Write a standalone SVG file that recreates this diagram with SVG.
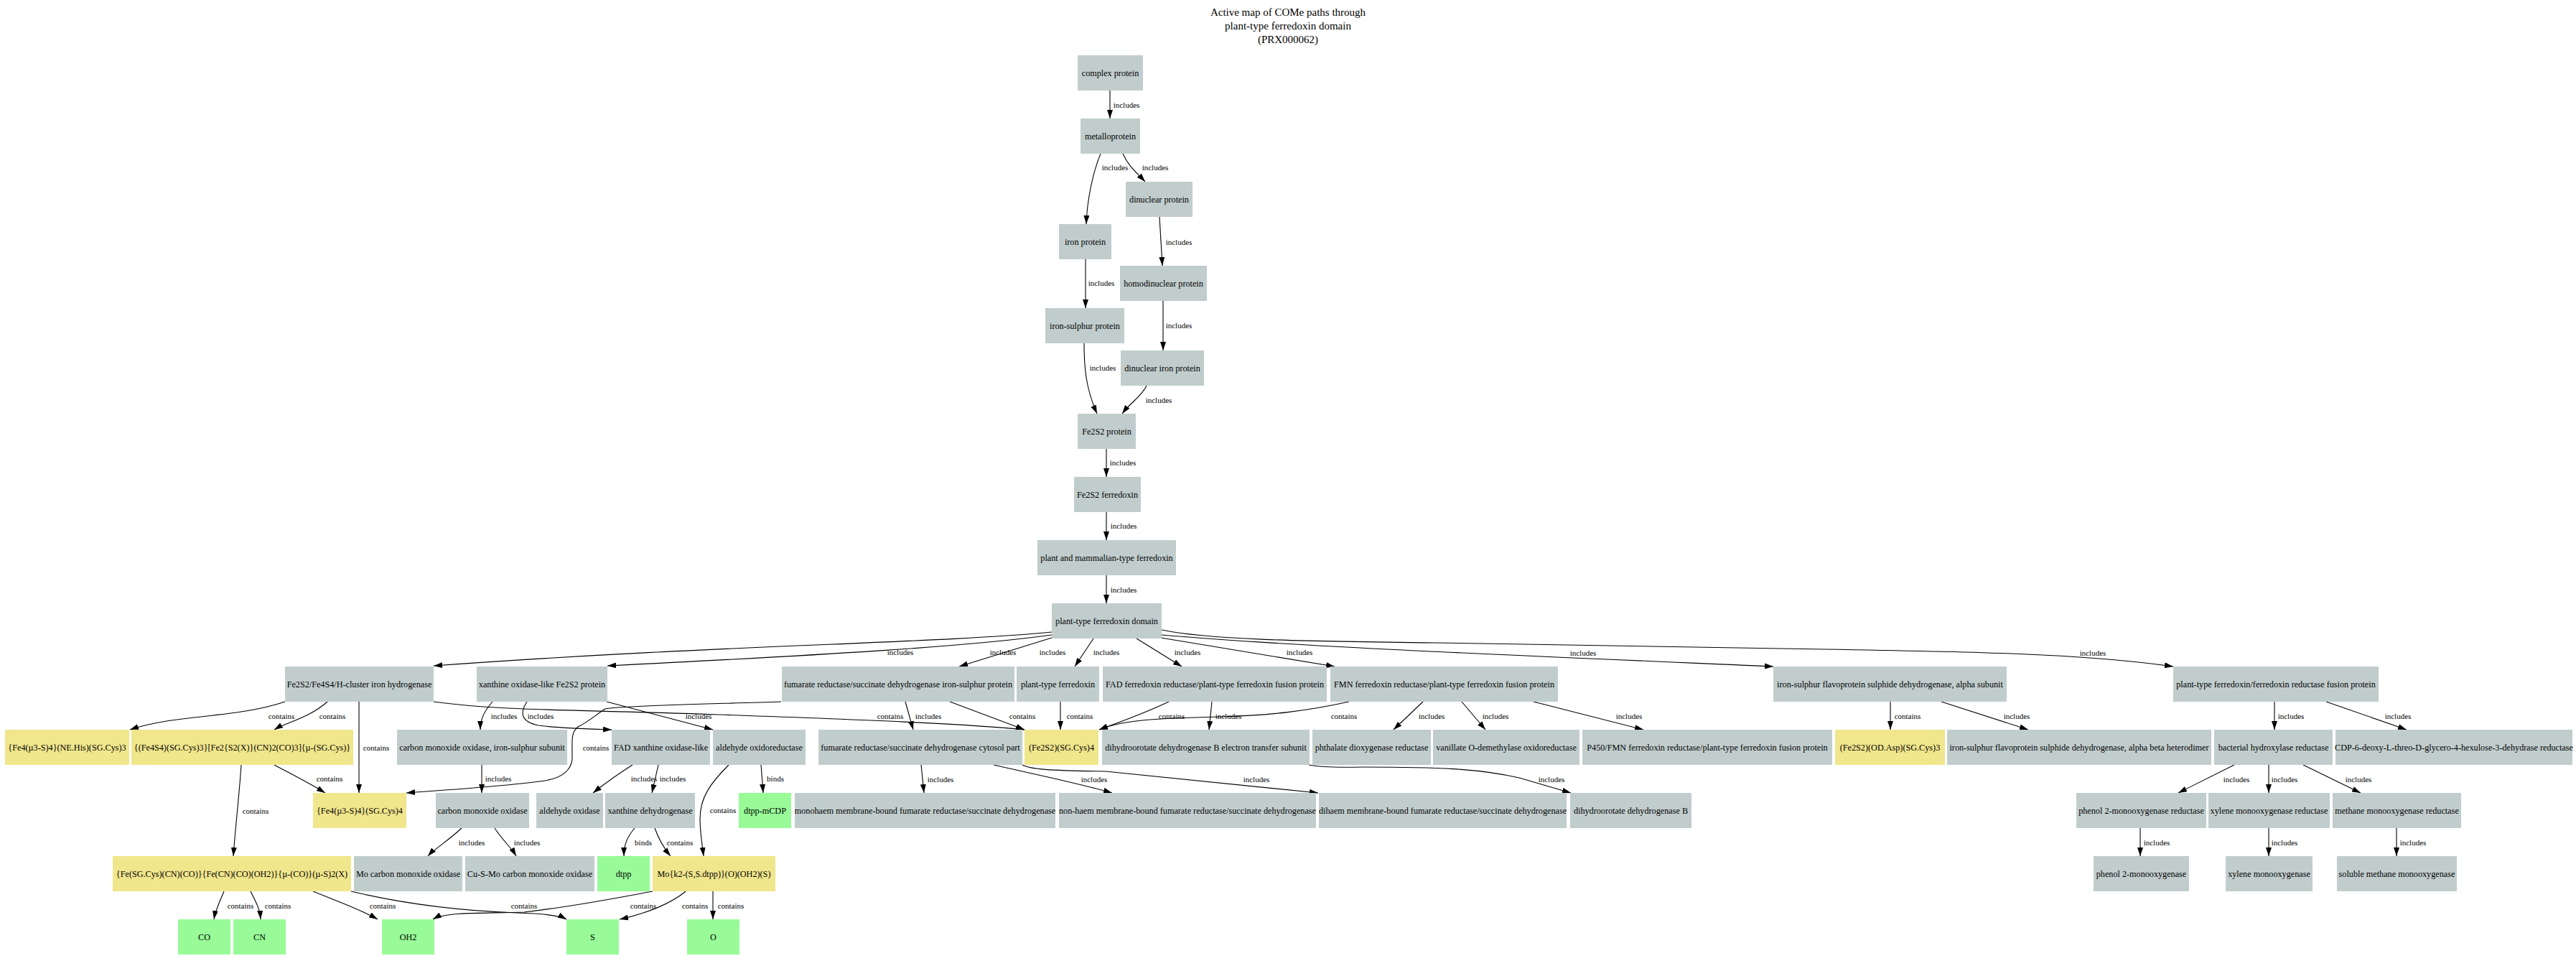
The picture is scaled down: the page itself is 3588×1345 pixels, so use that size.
<svg xmlns="http://www.w3.org/2000/svg" width="3588" height="1345" viewBox="0 0 3588 1345">
<defs>
<marker id="ah" markerUnits="userSpaceOnUse" markerWidth="12" markerHeight="8" refX="12" refY="4" orient="auto">
<path d="M0,0 L12,4 L0,8 z" fill="#000"/>
</marker>
<style>
.n{fill:#c1cdcd}.y{fill:#f0e68c}.g{fill:#98fb98}
text{font-family:"Liberation Serif","Times New Roman",serif;fill:#000}
.t{font-size:12.2px;text-anchor:middle}
.l{font-size:11px;text-anchor:middle}
.ti{font-size:15px;text-anchor:middle}
.e path{fill:none;stroke:#000;stroke-width:1.1;marker-end:url(#ah)}
</style>
</defs>
<rect width="3588" height="1345" fill="#fff"/>
<g id="title">
<text class="ti" x="1794" y="22">Active map of COMe paths through</text>
<text class="ti" x="1794" y="41">plant-type ferredoxin domain</text>
<text class="ti" x="1794" y="60">(PRX000062)</text>
</g>
<g id="edges" class="e">
<path d="M1546,126 L1546,165"/>
<path d="M1533,214 C1522,240 1514,280 1513,312"/>
<path d="M1564,214 C1572,232 1583,240 1595,253"/>
<path d="M1615,302 L1619,370"/>
<path d="M1512,361 L1512,429"/>
<path d="M1620,419 L1620,488"/>
<path d="M1510,478 C1510,510 1512,540 1528,576"/>
<path d="M1597,537 C1590,552 1575,560 1563,576"/>
<path d="M1541,625 L1541,664"/>
<path d="M1541,713 L1541,752"/>
<path d="M1541,801 L1541,840"/>
<path d="M1465,880 C1300,896 1000,898 604,927"/>
<path d="M1465,884 C1350,900 1150,912 846,927"/>
<path d="M1465,888 L1336,928"/>
<path d="M1523,889 L1497,928"/>
<path d="M1583,889 L1646,928"/>
<path d="M1617,888 L1859,928"/>
<path d="M1618,884 C1800,900 2100,912 2470,928"/>
<path d="M1618,877 C1680,890 1800,893 2000,895 L2480,903 C2750,907 2900,910 3027,928"/>
<path d="M397,977 C330,1000 240,995 181,1016"/>
<path d="M456,977 C430,1000 400,1005 382,1016"/>
<path d="M500,977 L500,1104"/>
<path d="M604,977 C700,990 774,987 1000,995 C1200,1002 1350,1008 1427,1016"/>
<path d="M1088,977 C1000,980 870,982 843,987 C830,995 820,1005 805,1012 C795,1020 797,1030 797,1057 C795,1075 780,1085 751,1088 C700,1095 620,1100 566,1104"/>
<path d="M1323,977 L1427,1016"/>
<path d="M1261,977 L1272,1016"/>
<path d="M686,977 C675,990 669,1000 669,1016"/>
<path d="M734,977 C724,992 725,1005 750,1010 C780,1014 820,1015 852,1016"/>
<path d="M845,977 L993,1016"/>
<path d="M671,1065 L671,1104"/>
<path d="M881,1065 C865,1075 850,1085 826,1104"/>
<path d="M917,1065 L908,1104"/>
<path d="M1060,1065 L1063,1104"/>
<path d="M1015,1065 C990,1090 975,1110 975,1140 C975,1160 978,1175 980,1192"/>
<path d="M382,1065 C410,1080 430,1090 453,1104"/>
<path d="M336,1065 C333,1110 328,1150 325,1192"/>
<path d="M643,1153 C625,1170 605,1182 596,1192"/>
<path d="M689,1153 C700,1170 712,1180 719,1192"/>
<path d="M884,1153 C874,1165 869,1175 869,1192"/>
<path d="M912,1153 C918,1170 924,1180 934,1192"/>
<path d="M312,1241 C306,1255 300,1268 298,1280"/>
<path d="M349,1241 C356,1255 362,1265 363,1280"/>
<path d="M436,1241 C470,1255 500,1265 526,1280"/>
<path d="M489,1241 C560,1258 640,1268 720,1271 C760,1272 780,1275 789,1280"/>
<path d="M909,1241 C860,1250 800,1262 730,1270 C660,1272 620,1270 603,1280"/>
<path d="M955,1241 C935,1258 900,1272 863,1280"/>
<path d="M993,1241 L993,1280"/>
<path d="M1283,1065 L1287,1104"/>
<path d="M1384,1065 C1450,1080 1500,1090 1549,1104"/>
<path d="M1424,1065 C1435,1071 1460,1073 1540,1074 L1836,1104"/>
<path d="M1823,1065 C1850,1070 1880,1068 1900,1068 C2000,1068 2060,1070 2116,1083 L2188,1104"/>
<path d="M1477,977 L1477,1016"/>
<path d="M1628,977 C1590,995 1560,1005 1531,1016"/>
<path d="M1688,977 L1684,1016"/>
<path d="M1879,977 C1820,990 1770,996 1700,998 C1600,1000 1560,1004 1531,1016"/>
<path d="M1982,977 L1941,1016"/>
<path d="M2036,977 L2069,1016"/>
<path d="M2136,977 L2289,1016"/>
<path d="M2633,977 L2633,1016"/>
<path d="M2704,977 L2825,1016"/>
<path d="M3168,977 L3168,1016"/>
<path d="M3240,977 L3352,1016"/>
<path d="M3112,1065 L3034,1104"/>
<path d="M3160,1065 L3160,1104"/>
<path d="M3208,1065 L3288,1104"/>
<path d="M2981,1153 L2981,1192"/>
<path d="M3160,1153 L3160,1192"/>
<path d="M3338,1153 L3338,1192"/>
</g>
<g id="edge-labels">
<text class="l" x="1569" y="150">includes</text>
<text class="l" x="1553" y="237">includes</text>
<text class="l" x="1609" y="237">includes</text>
<text class="l" x="1642" y="341">includes</text>
<text class="l" x="1534" y="398">includes</text>
<text class="l" x="1642" y="457">includes</text>
<text class="l" x="1536" y="516">includes</text>
<text class="l" x="1614" y="561">includes</text>
<text class="l" x="1564" y="648">includes</text>
<text class="l" x="1565" y="736">includes</text>
<text class="l" x="1565" y="825">includes</text>
<text class="l" x="1254" y="912">includes</text>
<text class="l" x="1397" y="912">includes</text>
<text class="l" x="1466" y="912">includes</text>
<text class="l" x="1541" y="912">includes</text>
<text class="l" x="1654" y="912">includes</text>
<text class="l" x="1810" y="912">includes</text>
<text class="l" x="2205" y="913">includes</text>
<text class="l" x="2915" y="913">includes</text>
<text class="l" x="392" y="1001">contains</text>
<text class="l" x="463" y="1001">contains</text>
<text class="l" x="524" y="1045">contains</text>
<text class="l" x="1240" y="1001">contains</text>
<text class="l" x="830" y="1045">contains</text>
<text class="l" x="1424" y="1001">contains</text>
<text class="l" x="1293" y="1001">includes</text>
<text class="l" x="702" y="1001">includes</text>
<text class="l" x="753" y="1001">includes</text>
<text class="l" x="973" y="1001">includes</text>
<text class="l" x="694" y="1088">includes</text>
<text class="l" x="897" y="1088">includes</text>
<text class="l" x="937" y="1088">includes</text>
<text class="l" x="1080" y="1088">binds</text>
<text class="l" x="1007" y="1132">contains</text>
<text class="l" x="459" y="1088">contains</text>
<text class="l" x="356" y="1133">contains</text>
<text class="l" x="657" y="1177">includes</text>
<text class="l" x="734" y="1177">includes</text>
<text class="l" x="896" y="1177">binds</text>
<text class="l" x="947" y="1177">contains</text>
<text class="l" x="335" y="1265">contains</text>
<text class="l" x="387" y="1265">contains</text>
<text class="l" x="533" y="1265">contains</text>
<text class="l" x="730" y="1265">contains</text>
<text class="l" x="968" y="1265">contains</text>
<text class="l" x="896" y="1265">contains</text>
<text class="l" x="1018" y="1265">contains</text>
<text class="l" x="1310" y="1089">includes</text>
<text class="l" x="1524" y="1089">includes</text>
<text class="l" x="1750" y="1089">includes</text>
<text class="l" x="2161" y="1089">includes</text>
<text class="l" x="1504" y="1001">contains</text>
<text class="l" x="1632" y="1001">contains</text>
<text class="l" x="1711" y="1001">includes</text>
<text class="l" x="1872" y="1001">contains</text>
<text class="l" x="1994" y="1001">includes</text>
<text class="l" x="2083" y="1001">includes</text>
<text class="l" x="2269" y="1001">includes</text>
<text class="l" x="2657" y="1001">contains</text>
<text class="l" x="2809" y="1001">includes</text>
<text class="l" x="3191" y="1001">includes</text>
<text class="l" x="3340" y="1001">includes</text>
<text class="l" x="3115" y="1089">includes</text>
<text class="l" x="3182" y="1089">includes</text>
<text class="l" x="3285" y="1089">includes</text>
<text class="l" x="3004" y="1177">includes</text>
<text class="l" x="3182" y="1177">includes</text>
<text class="l" x="3361" y="1177">includes</text>
</g>
<g id="complex-protein"><rect class="n" x="1501" y="77" width="91" height="49"/><text class="t" x="1546.5" y="105.5">complex protein</text></g>
<g id="metalloprotein"><rect class="n" x="1505" y="165" width="83" height="49"/><text class="t" x="1546.5" y="193.5">metalloprotein</text></g>
<g id="dinuclear-protein"><rect class="n" x="1568" y="253" width="93" height="49"/><text class="t" x="1614.5" y="281.5">dinuclear protein</text></g>
<g id="iron-protein"><rect class="n" x="1475" y="312" width="73" height="49"/><text class="t" x="1511.5" y="340.5">iron protein</text></g>
<g id="homodinuclear-protein"><rect class="n" x="1560" y="370" width="121" height="49"/><text class="t" x="1620.5" y="398.5">homodinuclear protein</text></g>
<g id="iron-sulphur-protein"><rect class="n" x="1456" y="429" width="110" height="49"/><text class="t" x="1511" y="457.5">iron-sulphur protein</text></g>
<g id="dinuclear-iron-protein"><rect class="n" x="1561" y="488" width="116" height="49"/><text class="t" x="1619" y="516.5">dinuclear iron protein</text></g>
<g id="fe2s2-protein"><rect class="n" x="1501" y="576" width="81" height="49"/><text class="t" x="1541.5" y="604.5">Fe2S2 protein</text></g>
<g id="fe2s2-ferredoxin"><rect class="n" x="1496" y="664" width="93" height="49"/><text class="t" x="1542.5" y="692.5">Fe2S2 ferredoxin</text></g>
<g id="plant-mammalian-ferredoxin"><rect class="n" x="1445" y="752" width="193" height="49"/><text class="t" x="1541.5" y="780.5">plant and mammalian-type ferredoxin</text></g>
<g id="plant-type-ferredoxin-domain"><rect class="n" x="1465" y="840" width="153" height="49"/><text class="t" x="1541.5" y="868.5">plant-type ferredoxin domain</text></g>
<g id="hydrogenase"><rect class="n" x="397" y="928" width="207" height="49"/><text class="t" x="500.5" y="956.5">Fe2S2/Fe4S4/H-cluster iron hydrogenase</text></g>
<g id="xanthine-oxidase-like-fe2s2"><rect class="n" x="664" y="928" width="182" height="49"/><text class="t" x="755" y="956.5">xanthine oxidase-like Fe2S2 protein</text></g>
<g id="frd-iron-sulphur"><rect class="n" x="1089" y="928" width="324" height="49"/><text class="t" x="1251" y="956.5">fumarate reductase/succinate dehydrogenase iron-sulphur protein</text></g>
<g id="plant-type-ferredoxin"><rect class="n" x="1416" y="928" width="115" height="49"/><text class="t" x="1473.5" y="956.5">plant-type ferredoxin</text></g>
<g id="fad-fusion"><rect class="n" x="1536" y="928" width="312" height="49"/><text class="t" x="1692" y="956.5">FAD ferredoxin reductase/plant-type ferredoxin fusion protein</text></g>
<g id="fmn-fusion"><rect class="n" x="1853" y="928" width="317" height="49"/><text class="t" x="2011.5" y="956.5">FMN ferredoxin reductase/plant-type ferredoxin fusion protein</text></g>
<g id="isf-alpha"><rect class="n" x="2470" y="928" width="325" height="49"/><text class="t" x="2632.5" y="956.5">iron-sulphur flavoprotein sulphide dehydrogenase, alpha subunit</text></g>
<g id="ptf-frd-fusion"><rect class="n" x="3027" y="928" width="286" height="49"/><text class="t" x="3170" y="956.5">plant-type ferredoxin/ferredoxin reductase fusion protein</text></g>
<g id="fe4s4-his"><rect class="y" x="7" y="1016" width="173" height="49"/><text class="t" x="93.5" y="1044.5">{Fe4(µ3-S)4}(NE.His)(SG.Cys)3</text></g>
<g id="h-cluster"><rect class="y" x="183" y="1016" width="309" height="49"/><text class="t" x="337.5" y="1044.5">{(Fe4S4)(SG.Cys)3}[Fe2{S2(X)}(CN)2(CO)3]{µ-(SG.Cys)}</text></g>
<g id="codh-fes"><rect class="n" x="553" y="1016" width="237" height="49"/><text class="t" x="671.5" y="1044.5">carbon monoxide oxidase, iron-sulphur subunit</text></g>
<g id="fad-xanthine-oxidase-like"><rect class="n" x="852" y="1016" width="137" height="49"/><text class="t" x="920.5" y="1044.5">FAD xanthine oxidase-like</text></g>
<g id="aldehyde-oxidoreductase"><rect class="n" x="993" y="1016" width="129" height="49"/><text class="t" x="1057.5" y="1044.5">aldehyde oxidoreductase</text></g>
<g id="frd-cytosol"><rect class="n" x="1140" y="1016" width="284" height="49"/><text class="t" x="1282" y="1044.5">fumarate reductase/succinate dehydrogenase cytosol part</text></g>
<g id="fe2s2-cys4"><rect class="y" x="1427" y="1016" width="103" height="49"/><text class="t" x="1478.5" y="1044.5">(Fe2S2)(SG.Cys)4</text></g>
<g id="dhodb-ets"><rect class="n" x="1535" y="1016" width="289" height="49"/><text class="t" x="1679.5" y="1044.5">dihydroorotate dehydrogenase B electron transfer subunit</text></g>
<g id="phthalate"><rect class="n" x="1828" y="1016" width="165" height="49"/><text class="t" x="1910.5" y="1044.5">phthalate dioxygenase reductase</text></g>
<g id="vanillate"><rect class="n" x="1996" y="1016" width="204" height="49"/><text class="t" x="2098" y="1044.5">vanillate O-demethylase oxidoreductase</text></g>
<g id="p450-fusion"><rect class="n" x="2204" y="1016" width="348" height="49"/><text class="t" x="2378" y="1044.5">P450/FMN ferredoxin reductase/plant-type ferredoxin fusion protein</text></g>
<g id="fe2s2-asp"><rect class="y" x="2556" y="1016" width="153" height="49"/><text class="t" x="2632.5" y="1044.5">(Fe2S2)(OD.Asp)(SG.Cys)3</text></g>
<g id="isf-alphabeta"><rect class="n" x="2712" y="1016" width="368" height="49"/><text class="t" x="2896" y="1044.5">iron-sulphur flavoprotein sulphide dehydrogenase, alpha beta heterodimer</text></g>
<g id="bacterial-hydroxylase-reductase"><rect class="n" x="3084" y="1016" width="165" height="49"/><text class="t" x="3166.5" y="1044.5">bacterial hydroxylase reductase</text></g>
<g id="cdp-reductase"><rect class="n" x="3253" y="1016" width="330" height="49"/><text class="t" x="3418" y="1044.5">CDP-6-deoxy-L-threo-D-glycero-4-hexulose-3-dehydrase reductase</text></g>
<g id="fe4s4-cys4"><rect class="y" x="436" y="1104" width="130" height="49"/><text class="t" x="501" y="1132.5">{Fe4(µ3-S)4}(SG.Cys)4</text></g>
<g id="codh"><rect class="n" x="607" y="1104" width="130" height="49"/><text class="t" x="672" y="1132.5">carbon monoxide oxidase</text></g>
<g id="aldehyde-oxidase"><rect class="n" x="747" y="1104" width="93" height="49"/><text class="t" x="793.5" y="1132.5">aldehyde oxidase</text></g>
<g id="xanthine-dehydrogenase"><rect class="n" x="843" y="1104" width="125" height="49"/><text class="t" x="905.5" y="1132.5">xanthine dehydrogenase</text></g>
<g id="dtpp-mcdp"><rect class="g" x="1029" y="1104" width="73" height="49"/><text class="t" x="1065.5" y="1132.5">dtpp-mCDP</text></g>
<g id="monohaem"><rect class="n" x="1107" y="1104" width="363" height="49"/><text class="t" x="1288.5" y="1132.5">monohaem membrane-bound fumarate reductase/succinate dehydrogenase</text></g>
<g id="non-haem"><rect class="n" x="1475" y="1104" width="358" height="49"/><text class="t" x="1654" y="1132.5">non-haem membrane-bound fumarate reductase/succinate dehydrogenase</text></g>
<g id="dihaem"><rect class="n" x="1837" y="1104" width="345" height="49"/><text class="t" x="2009.5" y="1132.5">dihaem membrane-bound fumarate reductase/succinate dehydrogenase</text></g>
<g id="dhodb"><rect class="n" x="2187" y="1104" width="169" height="49"/><text class="t" x="2271.5" y="1132.5">dihydroorotate dehydrogenase B</text></g>
<g id="phenol-reductase"><rect class="n" x="2892" y="1104" width="181" height="49"/><text class="t" x="2982.5" y="1132.5">phenol 2-monooxygenase reductase</text></g>
<g id="xylene-reductase"><rect class="n" x="3076" y="1104" width="169" height="49"/><text class="t" x="3160.5" y="1132.5">xylene monooxygenase reductase</text></g>
<g id="methane-reductase"><rect class="n" x="3249" y="1104" width="179" height="49"/><text class="t" x="3338.5" y="1132.5">methane monooxygenase reductase</text></g>
<g id="h-cluster-fe2"><rect class="y" x="157" y="1192" width="332" height="49"/><text class="t" x="323" y="1220.5">{Fe(SG.Cys)(CN)(CO)}{Fe(CN)(CO)(OH2)}{µ-(CO)}(µ-S)2(X)</text></g>
<g id="mo-codh"><rect class="n" x="493" y="1192" width="151" height="49"/><text class="t" x="568.5" y="1220.5">Mo carbon monoxide oxidase</text></g>
<g id="cu-s-mo-codh"><rect class="n" x="648" y="1192" width="180" height="49"/><text class="t" x="738" y="1220.5">Cu-S-Mo carbon monoxide oxidase</text></g>
<g id="dtpp"><rect class="g" x="832" y="1192" width="73" height="49"/><text class="t" x="868.5" y="1220.5">dtpp</text></g>
<g id="mo-dtpp"><rect class="y" x="909" y="1192" width="171" height="49"/><text class="t" x="994.5" y="1220.5">Mo{k2-(S,S.dtpp)}(O)(OH2)(S)</text></g>
<g id="phenol-monooxygenase"><rect class="n" x="2916" y="1192" width="133" height="49"/><text class="t" x="2982.5" y="1220.5">phenol 2-monooxygenase</text></g>
<g id="xylene-monooxygenase"><rect class="n" x="3100" y="1192" width="121" height="49"/><text class="t" x="3160.5" y="1220.5">xylene monooxygenase</text></g>
<g id="soluble-methane-monooxygenase"><rect class="n" x="3255" y="1192" width="167" height="49"/><text class="t" x="3338.5" y="1220.5">soluble methane monooxygenase</text></g>
<g id="co"><rect class="g" x="248" y="1280" width="73" height="49"/><text class="t" x="284.5" y="1308.5">CO</text></g>
<g id="cn"><rect class="g" x="325" y="1280" width="73" height="49"/><text class="t" x="361.5" y="1308.5">CN</text></g>
<g id="oh2"><rect class="g" x="532" y="1280" width="73" height="49"/><text class="t" x="568.5" y="1308.5">OH2</text></g>
<g id="s"><rect class="g" x="789" y="1280" width="73" height="49"/><text class="t" x="825.5" y="1308.5">S</text></g>
<g id="o"><rect class="g" x="957" y="1280" width="73" height="49"/><text class="t" x="993.5" y="1308.5">O</text></g>
</svg>
